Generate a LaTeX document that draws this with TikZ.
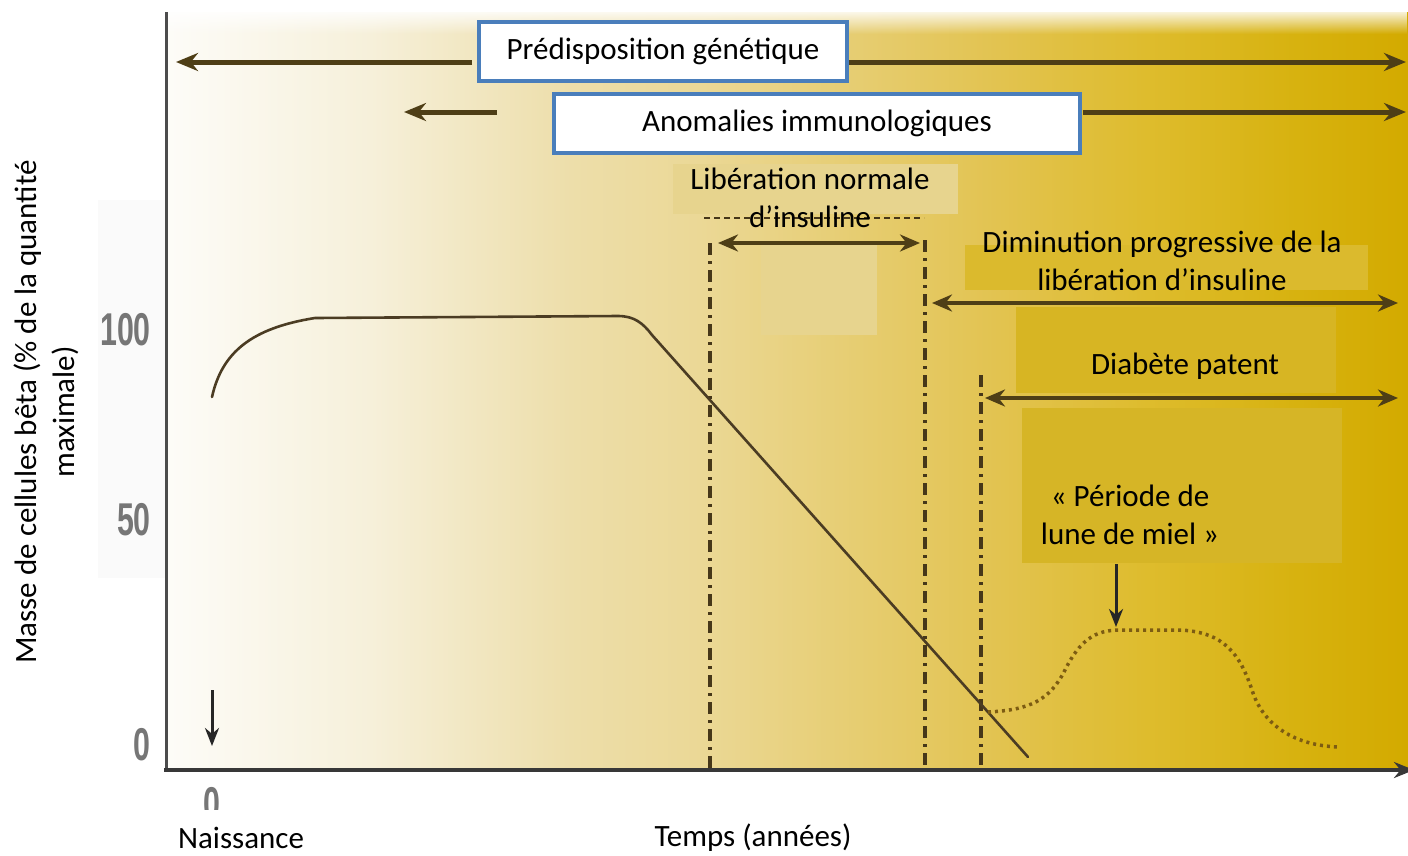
\documentclass[tikz,border=0pt]{standalone}
\usepackage{fontspec}
\setmainfont{Carlito}
\newfontfamily\tickfamily{Liberation Sans}
\usetikzlibrary{arrows.meta,fadings}
\definecolor{boxblue}{RGB}{74,126,187}
\definecolor{arrowc}{RGB}{78,62,22}
\definecolor{dashc}{RGB}{70,55,25}
\definecolor{curvec}{RGB}{75,60,35}
\definecolor{dotc}{RGB}{125,92,18}
\definecolor{bg0}{RGB}{253,252,248}
\definecolor{bg1}{RGB}{246,240,218}
\definecolor{bg2}{RGB}{237,222,170}
\definecolor{bg3}{RGB}{235,216,150}
\definecolor{bg4}{RGB}{226,195,80}
\definecolor{bg5}{RGB}{222,188,45}
\definecolor{bg6}{RGB}{215,178,15}
\definecolor{bg7}{RGB}{211,170,0}
\definecolor{libfill}{RGB}{231,212,142}
\definecolor{dimfill}{RGB}{219,186,45}
\definecolor{diabfill}{RGB}{215,181,35}
\definecolor{lunefill}{RGB}{214,181,38}
\definecolor{tickc}{RGB}{118,118,118}
\pgfdeclarehorizontalshading{bgshade}{100bp}{%
  color(0bp)=(bg0); color(25bp)=(bg0); color(33.25bp)=(bg1); color(41.3bp)=(bg2);
  color(46.5bp)=(bg3); color(58.5bp)=(bg4); color(64.5bp)=(bg5); color(70.5bp)=(bg6);
  color(75bp)=(bg7); color(100bp)=(bg7)}
\newcommand\lblfont{\fontsize{31}{38}\selectfont}
\newcommand\tickfont{\tickfamily\bfseries\fontsize{46}{46}\selectfont}
\tikzset{
  arr/.style={line width=5pt, draw=arrowc, -{Stealth[length=22pt,width=18pt]}},
  darr/.style={line width=4.5pt, draw=arrowc, {Stealth[length=20pt,width=17pt]}-{Stealth[length=20pt,width=17pt]}},
  dnarr/.style={line width=3pt, draw=black!85, -{Stealth[length=18pt,width=14pt]}},
  vdash/.style={line width=3.5pt, draw=dashc, dash pattern=on 12pt off 6pt on 3pt off 6pt},
  bluebox/.style={draw=boxblue, line width=3.5pt, fill=white, font=\lblfont, inner sep=0pt, text=black},
  lbl/.style={font=\lblfont, align=center, text=black, inner sep=0pt},
  fillbox/.style={inner sep=0pt, draw=none},
  tick/.style={font=\tickfont, text=tickc, inner sep=0pt},
}
\begin{document}
\begin{tikzpicture}[x=1pt,y=-1pt]
\useasboundingbox (0,0) rectangle (1408,855);
\fill[white] (0,0) rectangle (1408,855);
% faint patch beside axis
\fill[black!2] (98,200) rectangle (165,578);
% background gradient
\shade[shading=bgshade] (165,12) rectangle (1408,770);
\fill[white, path fading=south] (165,8) rectangle (1408,34);
% axes
\draw[line width=3pt, draw=black!70] (166,12) -- (166,771);
\coordinate (xa0) at (164,770);
\coordinate (xa1) at (1414,770);
\draw[line width=4pt, draw=black!78, -{Stealth[length=20pt,width=16pt]}] (xa0) -- (xa1);

% tick labels
\node[tick, anchor=east] (t100) at (151,330) {\scalebox{0.66}[1]{100}};
\node[tick, anchor=east] (t50) at (151,520) {\scalebox{0.66}[1]{50}};
\node[tick, anchor=east] (t0) at (151,745) {\scalebox{0.66}[1]{0}};
\node[tick] (tx0) at (212,804) {\scalebox{0.66}[1]{0}};
\fill[white] (150,810) rectangle (300,824);

% filler patch
\node[fillbox, fill=libfill, minimum width=116pt, minimum height=90pt] (patch) at (819,290) {};

% vertical dash-dot lines
\coordinate (v1t) at (710,243); \coordinate (v1b) at (710,770);
\coordinate (v2t) at (925,240); \coordinate (v2b) at (925,770);
\coordinate (v3t) at (981,375); \coordinate (v3b) at (981,770);
\draw[vdash] (v1t) -- (v1b);
\draw[vdash] (v2t) -- (v2b);
\draw[vdash] (v3t) -- (v3b);
\coordinate (h1) at (704,218); \coordinate (h2) at (924,218);
\draw[line width=2.5pt, draw=dashc, dash pattern=on 6pt off 4pt] (h1) -- (h2);

% main curve
\draw[line width=2.6pt, draw=curvec, line cap=round]
  (212,397) .. controls (222,352) and (252,328) .. (315,318)
  -- (618,316) .. controls (634,316) and (643,323) .. (652,335)
  -- (1028,757);
% honeymoon dotted curve
\draw[line width=3.5pt, draw=dotc, dash pattern=on 3pt off 4pt]
  (988,712) .. controls (1030,710) and (1050,700) .. (1065,670)
  .. controls (1080,640) and (1095,630) .. (1120,630)
  -- (1180,630) .. controls (1225,632) and (1240,655) .. (1252,690)
  .. controls (1262,722) and (1290,745) .. (1338,747);

% label boxes
\node[bluebox, minimum width=368pt, minimum height=59pt] (pred) at (663,51.5) {Prédisposition génétique};
\node[bluebox, minimum width=526pt, minimum height=59pt] (anom) at (817,123.5) {Anomalies immunologiques};

\node[fillbox, fill=libfill, minimum width=285pt, minimum height=50pt] (libbox) at (815.5,189) {};
\node[lbl] (libtxt) at (810,198) {Libération normale\\d’insuline};

\node[fillbox, fill=dimfill, minimum width=403pt, minimum height=45pt] (dimbox) at (1166,267.5) {};
\node[lbl] (dimtxt) at (1162,261) {Diminution progressive de la\\libération d’insuline};

\node[fillbox, fill=diabfill, minimum width=320pt, minimum height=86pt] (diabbox) at (1176,350) {};
\node[lbl] (diabtxt) at (1185,366) {Diabète patent};

\node[fillbox, fill=lunefill, minimum width=320pt, minimum height=155pt] (lunebox) at (1182,485.5) {};
\node[lbl] (lunetxt) at (1130,515) {« Période de\\lune de miel »};

% top arrows
\coordinate (pL) at (176,62); \coordinate (pLs) at (472,62);
\coordinate (pRs) at (849,62); \coordinate (pR) at (1406,62);
\draw[arr] (pLs) -- (pL);
\draw[arr] (pRs) -- (pR);
\coordinate (aL) at (404,112); \coordinate (aLs) at (497,112);
\coordinate (aRs) at (1083,112); \coordinate (aR) at (1406,112);
\draw[arr] (aLs) -- (aL);
\draw[arr] (aRs) -- (aR);

% range arrows
\coordinate (l1) at (718,243); \coordinate (l2) at (920,243);
\draw[darr] (l1) -- (l2);
\coordinate (d1) at (932,303); \coordinate (d2) at (1398,303);
\draw[darr] (d1) -- (d2);
\coordinate (p1) at (985,398); \coordinate (p2) at (1398,398);
\draw[darr] (p1) -- (p2);

% small down arrows
\coordinate (n1) at (212,690); \coordinate (n2) at (212,746);
\draw[dnarr] (n1) -- (n2);
\coordinate (m1) at (1116,564); \coordinate (m2) at (1116,627);
\draw[dnarr] (m1) -- (m2);

% axis titles
\node[lbl, rotate=90] (ylab) at (46,412) {Masse de cellules bêta (\% de la quantité\\maximale)};
\node[lbl] (naiss) at (241,838) {Naissance};
\node[lbl] (temps) at (753,838) {Temps (années)};
\end{tikzpicture}
\end{document}
